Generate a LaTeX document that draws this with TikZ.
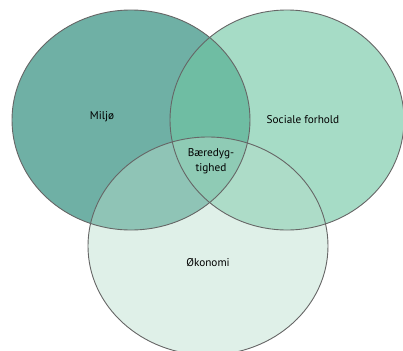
\documentclass[tikz,border=0pt]{standalone}
\usepackage{fontspec}
\setmainfont{PT Sans}
\usepackage{xcolor}

\definecolor{miljo}{HTML}{6FB0A5}
\definecolor{social}{HTML}{6FC6A3}
\definecolor{okonomi}{HTML}{B8DECC}
\definecolor{rand}{HTML}{666666}

\begin{document}
\begin{tikzpicture}[x=1bp,y=-1bp]
\useasboundingbox (0,0) rectangle (403,351);
\fill[miljo] (131,120) ellipse (119 and 110);
\fill[social,fill opacity=0.62] (287,120) ellipse (117 and 110);
\fill[okonomi,fill opacity=0.45] (208,246) ellipse (120 and 109);
\draw[rand,line width=0.9bp] (131,120) ellipse (119 and 110);
\draw[rand,line width=0.9bp] (287,120) ellipse (117 and 110);
\draw[rand,line width=0.9bp] (208,246) ellipse (120 and 109);
\draw (102,117) node[font=\fontsize{11.3}{12}\selectfont](M) {Miljø};
\draw (303,120) node[font=\fontsize{11.3}{12}\selectfont](S) {Sociale forhold};
\draw (211,161) node[font=\fontsize{11.3}{14.5}\selectfont,align=center](B) {Bæredyg-\\tighed};
\draw (208,263) node[font=\fontsize{11.3}{12}\selectfont](O) {Økonomi};
\end{tikzpicture}
\end{document}
